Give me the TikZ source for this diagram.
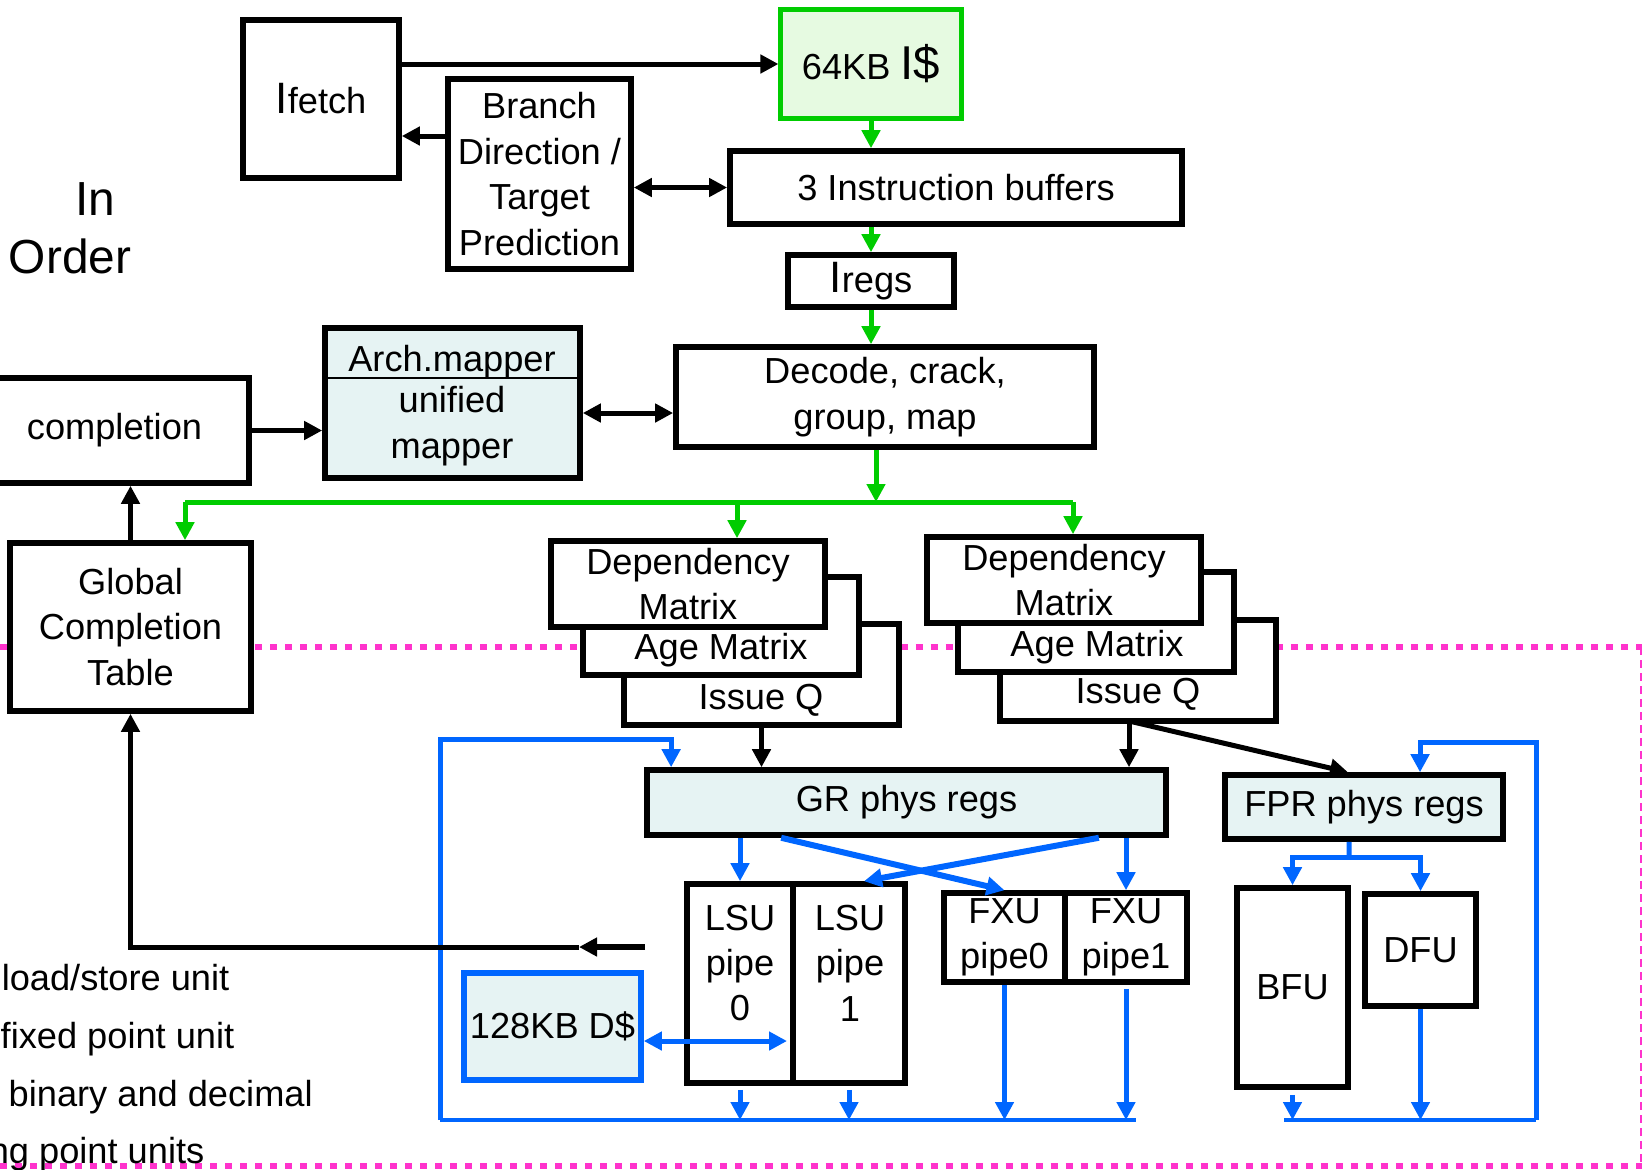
\documentclass[tikz,border=0pt]{standalone}
\usepackage{fontspec}
\setmainfont{Liberation Sans}
\usetikzlibrary{arrows.meta}
\definecolor{ggreen}{RGB}{0,204,0}
\definecolor{gfill}{RGB}{230,250,225}
\definecolor{bblue}{RGB}{0,102,255}
\definecolor{bfill}{RGB}{230,243,243}
\definecolor{ppink}{RGB}{255,51,204}
\begin{document}
\begin{tikzpicture}[x=0.01cm, y=-0.01cm, >={Triangle[length=0.18cm, width=0.18cm]}]
      \tikzstyle{every node} = [inner sep = 0pt, align = center, font = \fontsize{10.3}{12.9}\selectfont];
      \tikzstyle{box} = [draw, line width = 0.055cm, fill = white];
      \tikzstyle{regs} = [box, fill = bfill];
      \tikzstyle{blk} = [->, line width = 0.05cm];
      \tikzstyle{grn} = [->, ggreen, line width = 0.05cm];
      \tikzstyle{blu} = [->, bblue, line width = 0.05cm];
      \tikzstyle{pinkdots} = [ppink, line width = 0.06cm, dash pattern = on 0.07cm off 0.08cm];
      \useasboundingbox (0,0) rectangle (1643,1169);
      \draw[pinkdots] (0,647) -- (1642,647);
      \draw[pinkdots] (0,1166) -- (1642,1166);
      \draw[ppink, line width = 0.02cm, dash pattern = on 0.08cm off 0.05cm] (1641,647) -- (1641,1166);
      \node(in) [anchor = base, font = \fontsize{13.6}{16}\selectfont] at (95,215) {In};
      \node(order) [anchor = base, font = \fontsize{13.6}{16}\selectfont] at (70,273) {Order};
      \node(lsuname) [anchor = base east] at (230,990) {load/store unit};
      \node(fxuname) [anchor = base east] at (235,1048) {fixed point unit};
      \node(bfuname) [anchor = base west] at (8,1106) {binary and decimal};
      \node(fpname) [anchor = base east] at (205,1163) {ng point units};
      \node(ifetch) [box, minimum width = 1.56cm, minimum height = 1.58cm] at (321,99) {{\fontsize{12.5}{12.9}\selectfont I}fetch};
      \node(branch) [box, minimum width = 1.83cm, minimum height = 1.9cm] at (539.5,174) {Branch\\Direction /\\Target\\Prediction};
      \node(icache) [box, draw = ggreen, line width = 0.05cm, fill = gfill, minimum width = 1.8cm, minimum height = 1.08cm] at (871,64) {64KB {\fontsize{13.5}{12.9}\selectfont I\$}};
      \node(ibuf) [box, minimum width = 4.52cm, minimum height = 0.73cm] at (956,187.5) {3 Instruction buffers};
      \node(iregs) [box, minimum width = 1.66cm, minimum height = 0.52cm] at (871,281) {{\fontsize{12.5}{12.9}\selectfont I}regs};
      \node(decode) [box, minimum width = 4.18cm, minimum height = 1cm] at (885,397) {Decode, crack,\\group, map};
      \node(mapper) [regs, minimum width = 2.55cm, minimum height = 1.5cm] at (452.5,403) {};
      \draw[line width = 0.015cm] (mapper.west |- 0,378) -- (583,378);
      \node(arch) at (452,362) {Arch.mapper};
      \node(unified) at (452,426) {unified\\mapper};
      \node(compl) [box, minimum width = 2.69cm, minimum height = 1.05cm] at (114.5,430.5) {completion};
      \node(gct) [box, minimum width = 2.41cm, minimum height = 1.68cm] at (130.5,627) {Global\\Completion\\Table};
      \node(iqL) [box, minimum width = 2.75cm, minimum height = 1.01cm] at (761.5,674.5) {};
      \node(ageL) [box, minimum width = 2.76cm, minimum height = 0.98cm] at (721,626) {};
      \node(depL) [box, minimum width = 2.74cm, minimum height = 0.86cm] at (688,584) {Dependency\\Matrix};
      \node(iqLt) at (761,700) {Issue Q};
      \node(ageLt) at (721,650) {Age Matrix};
      \node(iqR) [box, minimum width = 2.76cm, minimum height = 1.01cm] at (1138,670.5) {};
      \node(ageR) [box, minimum width = 2.76cm, minimum height = 1cm] at (1096,622) {};
      \node(depR) [box, minimum width = 2.74cm, minimum height = 0.86cm] at (1064,580) {Dependency\\Matrix};
      \node(iqRt) at (1138,694) {Issue Q};
      \node(ageRt) at (1097,647) {Age Matrix};
      \node(gr) [regs, minimum width = 5.19cm, minimum height = 0.65cm] at (906.5,802.5) {GR phys regs};
      \node(fpr) [regs, minimum width = 2.78cm, minimum height = 0.64cm] at (1364,807) {FPR phys regs};
      \node(lsu0) [box, minimum width = 1.06cm, minimum height = 1.99cm] at (740,983.5) {};
      \node(lsu1) [box, minimum width = 1.12cm, minimum height = 1.99cm] at (849,983.5) {};
      \node(lsu0t) at (740,963) {LSU\\pipe\\0};
      \node(lsu1t) at (850,963) {LSU\\pipe\\1};
      \node(fxu0) [box, minimum width = 1.21cm, minimum height = 0.89cm] at (1004.5,937.5) {FXU\\pipe0};
      \node(fxu1) [box, minimum width = 1.22cm, minimum height = 0.89cm] at (1126,937.5) {FXU\\pipe1};
      \node(bfu) [box, minimum width = 1.11cm, minimum height = 1.99cm] at (1292.5,987.5) {BFU};
      \node(dfu) [box, minimum width = 1.11cm, minimum height = 1.12cm] at (1420.5,950) {DFU};
      \node(dcache) [box, draw = bblue, fill = bfill, minimum width = 1.77cm, minimum height = 1.07cm] at (552.5,1026.5) {128KB D\$};
      \coordinate (gleft) at (185,502);
      \coordinate (gmid) at (737,502);
      \coordinate (gsplit) at (876,502);
      \coordinate (gright) at (1073,502);
      \path[grn]
      (icache.south) edge (icache.south |- ibuf.north)
      (iregs.north |- ibuf.south) edge (iregs.north)
      (iregs.south) edge (iregs.south |- decode.north)
      (decode.south -| gsplit) edge (gsplit)
      (gleft) edge (gleft |- gct.north)
      (gmid) edge (gmid |- depL.north)
      (gright) edge (gright |- depR.north);
      \draw[ggreen, line width = 0.05cm] (gleft) -- (gright);
      \coordinate (busl) at (440,1120);
      \coordinate (busr) at (1136,1120);
      \coordinate (fbusl) at (1284,1120);
      \coordinate (fbusr) at (1536,1120);
      \coordinate (fsplit) at (1349,857);
      \coordinate (dcin) at (787,1041);
      \draw[bblue, line width = 0.045cm] (busl) -- (busr);
      \draw[bblue, line width = 0.045cm] (fbusl) -- (fbusr);
      \draw[blu] (busl) |- ([xshift = 0.27cm, yshift = 0.28cm]gr.north west) -- ([xshift = 0.27cm]gr.north west);
      \draw[blu] (fbusr) |- ([xshift = 0.56cm, yshift = 0.3cm]fpr.north) -- ([xshift = 0.56cm]fpr.north);
      \path[blu]
      (gr.south -| lsu0.north) edge (lsu0.north)
      (gr.south -| fxu1.north) edge (fxu1.north)
      ([xshift = 1.37cm]gr.south west) edge[line width = 0.06cm] (fxu0.north)
      ([xshift = -0.7cm]gr.south east) edge[line width = 0.06cm] ([xshift = 0.15cm]lsu1.north)
      (lsu0.south) edge[shorten < = 0.04cm] (lsu0.south |- busl)
      (lsu1.south) edge[shorten < = 0.04cm] (lsu1.south |- busl)
      (fxu0.south) edge (fxu0.south |- busl)
      (fxu1.south) edge[shorten < = 0.04cm] (fxu1.south |- busl)
      (bfu.south) edge[shorten < = 0.05cm] (bfu.south |- busl)
      (dfu.south) edge (dfu.south |- busl);
      \draw[bblue, line width = 0.05cm] ([xshift = -0.15cm]fpr.south) -- (fsplit);
      \draw[blu] (fsplit) -| (bfu.north);
      \draw[blu] (fsplit) -| (dfu.north);
      \draw[blu, <->] (dcache.east |- dcin) -- (dcin);
      \coordinate (iqRout) at (1129,721);
      \coordinate (lsqout) at (645,947);
      \coordinate (lsqtip) at (579,947);
      \path[blk]
      (ifetch.east |- icache.west) edge (icache.west)
      (branch.west |- 0,136) edge (ifetch.east |- 0,136)
      (compl.east) edge (compl.east -| mapper.west)
      (gct.north) edge (gct.north |- compl.south)
      (iqL.south) edge (iqL.south |- gr.north)
      (iqRout) edge (iqRout |- gr.north)
      (iqRout) edge ([xshift = -0.16cm]fpr.north);
      \path[blk, <->]
      (branch.east |- ibuf.west) edge (ibuf.west)
      (mapper.east |- 0,413) edge (decode.west |- 0,413);
      \draw[blk, line width = 0.065cm] (lsqout) -- (lsqtip);
      \draw[blk] (lsqtip) -| (gct.south);
    \end{tikzpicture}
\end{document}
